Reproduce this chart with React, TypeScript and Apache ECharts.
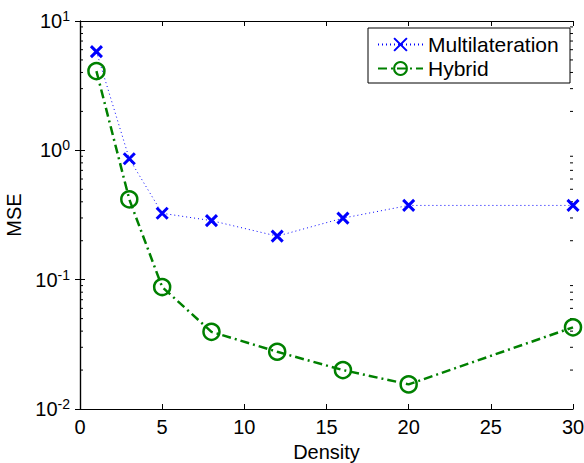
import React, { useEffect, useRef } from "react";
import * as echarts from "echarts";

const densities = [1, 3, 5, 8, 12, 16, 20, 30];
const multilaterationMSE = [5.8, 0.86, 0.326, 0.286, 0.217, 0.299, 0.375, 0.375];
const hybridMSE = [4.1, 0.418, 0.0877, 0.0395, 0.0277, 0.02, 0.0155, 0.0428];
const xTicks = [0, 5, 10, 15, 20, 25, 30];
const yDecades = [0.01, 0.1, 1, 10];
const minorMultipliers = [2, 3, 4, 5, 6, 7, 8, 9];

const FONT = "'Liberation Sans', Arial, Helvetica, sans-serif";

export default function App() {
  const ref = useRef<HTMLDivElement>(null);
  useEffect(() => {
    if (!ref.current) return;
    const chart = echarts.init(ref.current, undefined, { renderer: "svg" });
    const minorTicks: number[][] = [];
    yDecades.slice(0, -1).forEach((d) =>
      minorMultipliers.forEach((m) => minorTicks.push([xTicks[0], d * m]))
    );
    const xMin = xTicks[0];
    const xMax = xTicks[xTicks.length - 1];
    const yMin = yDecades[0];
    const yMax = yDecades[yDecades.length - 1];

    const yLabel = (v: number) => {
      const e = Math.round(Math.log10(v));
      return "{a|10}{b|" + (e < 0 ? "-" + Math.abs(e) : String(e)) + "}";
    };

    chart.setOption({
      animation: false,
      textStyle: { fontFamily: FONT },
      grid: { left: 80, top: 21, right: 11, bottom: 54, show: false, outerBoundsMode: "none", containLabel: false },
      graphic: [
        {
          type: "rect",
          shape: { x: 368, y: 28, width: 202, height: 55 },
          style: { fill: "#fff", stroke: "#000", lineWidth: 1 },
          z: 5,
          silent: true,
        },
      ],
      legend: {
        data: ["Multilateration", "Hybrid"],
        orient: "vertical",
        left: 368,
        top: 28,
        padding: [6, 10, 4, 9],
        itemGap: 3,
        itemWidth: 45,
        itemHeight: 16,
        z: 6,
        textStyle: { fontSize: 21, color: "#000", fontFamily: FONT, lineHeight: 21 },
      },
      xAxis: [
        {
          type: "value",
          min: xMin,
          max: xMax,
          interval: 5,
          name: "Density",
          nameLocation: "middle",
          nameGap: 30,
          nameTextStyle: { fontSize: 20, color: "#000", fontFamily: FONT },
          axisLine: { lineStyle: { color: "#000", width: 1.2 } },
          axisTick: { inside: true, length: 5, lineStyle: { color: "#000" } },
          axisLabel: { fontSize: 20, color: "#000", margin: 8, fontFamily: FONT },
          splitLine: { show: false },
        },
        {
          type: "value",
          position: "top",
          min: xMin,
          max: xMax,
          interval: 5,
          axisLine: { lineStyle: { color: "#000", width: 1.2 } },
          axisTick: { inside: true, length: 5, lineStyle: { color: "#000" } },
          axisLabel: { show: false },
          splitLine: { show: false },
        },
      ],
      yAxis: [
        {
          type: "log",
          logBase: 10,
          min: yMin,
          max: yMax,
          name: "MSE",
          nameLocation: "middle",
          nameGap: 55,
          nameTextStyle: { fontSize: 20, color: "#000", fontFamily: FONT },
          axisLine: { lineStyle: { color: "#000", width: 1.2 } },
          axisTick: { inside: true, length: 5, lineStyle: { color: "#000" } },
          axisLabel: {
            formatter: yLabel,
            margin: 10,
            color: "#000",
            rich: {
              a: { fontSize: 20, color: "#000", fontFamily: FONT, lineHeight: 24 },
              b: { fontSize: 14, color: "#000", fontFamily: FONT, verticalAlign: "top", lineHeight: 14 },
            },
          },
          splitLine: { show: false },
        },
        {
          type: "log",
          logBase: 10,
          min: yMin,
          max: yMax,
          position: "right",
          axisLine: { lineStyle: { color: "#000", width: 1.2 } },
          axisTick: { inside: true, length: 5, lineStyle: { color: "#000" } },
          axisLabel: { show: false },
          splitLine: { show: false },
        },
      ],
      series: [
        {
          type: "custom",
          name: "minorTicks",
          silent: true,
          xAxisIndex: 0,
          yAxisIndex: 0,
          data: minorTicks,
          renderItem: (params: any, api: any) => {
            const v = api.value(1);
            const left = api.coord([xMin, v]);
            const right = api.coord([xMax, v]);
            const style = { stroke: "#000", lineWidth: 1 };
            return {
              type: "group",
              children: [
                { type: "line", shape: { x1: left[0], y1: left[1], x2: left[0] + 3, y2: left[1] }, style },
                { type: "line", shape: { x1: right[0] - 3, y1: right[1], x2: right[0], y2: right[1] }, style },
              ],
            };
          },
        },
        {
          type: "line",
          name: "Multilateration",
          data: densities.map((d, i) => [d, multilaterationMSE[i]]),
          symbol: "path://M0,0L10,10M10,0L0,10",
          symbolSize: 11,
          showAllSymbol: true,
          itemStyle: { color: "#0000ff", borderColor: "#0000ff", borderWidth: 3 },
          lineStyle: { color: "#0000ff", width: 1, type: [1, 3] },
          z: 3,
        },
        {
          type: "line",
          name: "Hybrid",
          data: densities.map((d, i) => [d, hybridMSE[i]]),
          symbol: "circle",
          symbolSize: 16,
          showAllSymbol: true,
          itemStyle: { color: "rgba(0,0,0,0)", borderColor: "#008000", borderWidth: 2.5 },
          lineStyle: { color: "#008000", width: 2.5, type: [9, 4, 2, 4] },
          z: 4,
        },
      ],
    });
    return () => chart.dispose();
  }, []);
  return (
    <div
      ref={ref}
      style={{ position: "absolute", left: 0, top: 0, width: 584, height: 463, background: "#fff" }}
    />
  );
}
